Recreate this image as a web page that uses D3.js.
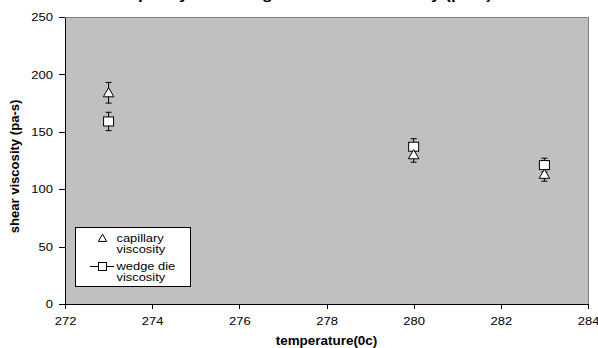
<!DOCTYPE html>
<html lang="en">
	<head>
		<meta charset="utf-8">
		<title>shear viscosity vs temperature</title>
		<script type="text/javascript" src="https://cdn.jsdelivr.net/npm/d3@7"></script>
		<style>
			body { margin: 0; background: white; }
			svg { display: block; }
			text {
				font-family: "Liberation Sans", Arial, sans-serif;
				fill: black;
			}
			.axis path,
			.axis line {
				stroke: black;
				shape-rendering: crispEdges;
			}
		</style>
	</head>
	<body>
		<script type="text/javascript">
			// data
			var temperature = [273, 280, 283];
			var capillary = [184, 130, 113];
			var capillaryErr = [9, 6.5, 6];
			var wedgeDie = [159, 137, 121];
			var wedgeDieErr = [8, 7, 6];
			var xTicks = [272, 274, 276, 278, 280, 282, 284];
			var yTicks = [0, 50, 100, 150, 200, 250];
			var seriesNames = ["capillary viscosity", "wedge die viscosity"];

			var w = 598;
			var h = 348;
			var plotLeft = 65, plotRight = 588, plotTop = 17, plotBottom = 304;

			// the original picture is a bit wider than tall, so widen the text
			function stretch(sel, k) {
				sel.each(function() {
					var len = this.getComputedTextLength();
					d3.select(this)
					  .attr("textLength", len * k)
					  .attr("lengthAdjust", "spacingAndGlyphs");
				});
			}

			var svg = d3.select("body")
						.append("svg")
						.attr("width", w)
						.attr("height", h);

			var xScale = d3.scaleLinear()
						   .domain([272, 284])
						   .range([plotLeft, plotRight]);
			var yScale = d3.scaleLinear()
						   .domain([0, 250])
						   .range([plotBottom, plotTop]);

			// plot area
			svg.append("rect")
			   .attr("x", plotLeft)
			   .attr("y", plotTop)
			   .attr("width", plotRight - plotLeft)
			   .attr("height", plotBottom - plotTop)
			   .attr("fill", "#c0c0c0")
			   .attr("stroke", "#808080")
			   .attr("stroke-width", 1)
			   .attr("shape-rendering", "crispEdges");

			// title, cut off by the top edge (only descenders show)
			svg.append("text")
			   .attr("x", 119)
			   .attr("y", -1.5)
			   .attr("font-size", "15px")
			   .attr("font-weight", "bold")
			   .attr("textLength", 373)
			   .attr("lengthAdjust", "spacingAndGlyphs")
			   .text("capillary and wedge die shear viscosity (pa-s)");

			var xAxis = d3.axisBottom(xScale)
						  .tickValues(xTicks)
						  .tickSize(5)
						  .tickSizeOuter(0)
						  .tickPadding(7.5);
			var yAxis = d3.axisLeft(yScale)
						  .tickValues(yTicks)
						  .tickSize(6)
						  .tickSizeOuter(0)
						  .tickPadding(6);

			svg.append("g")
			   .attr("class", "axis")
			   .attr("transform", "translate(0," + plotBottom + ")")
			   .call(xAxis)
			   .selectAll("text")
			   .attr("font-family", "Liberation Sans, Arial, sans-serif")
			   .attr("font-size", "11.5px")
			   .call(stretch, 1.13);

			svg.append("g")
			   .attr("class", "axis")
			   .attr("transform", "translate(" + plotLeft + ",0)")
			   .call(yAxis)
			   .selectAll("text")
			   .attr("font-family", "Liberation Sans, Arial, sans-serif")
			   .attr("font-size", "11.5px")
			   .call(stretch, 1.13);

			// axis titles
			svg.append("text")
			   .attr("x", (plotLeft + plotRight) / 2)
			   .attr("y", 345)
			   .attr("text-anchor", "middle")
			   .attr("font-size", "12px")
			   .attr("font-weight", "bold")
			   .text("temperature(0c)")
			   .call(stretch, 1.12);

			svg.append("text")
			   .attr("transform", "translate(18.5," + ((plotTop + plotBottom) / 2 + 6) + ") rotate(-90)")
			   .attr("text-anchor", "middle")
			   .attr("font-size", "12px")
			   .attr("font-weight", "bold")
			   .text("shear viscosity (pa-s)")
			   .call(stretch, 1.09);

			var capData = temperature.map(function(t, i) { return [t, capillary[i], capillaryErr[i]]; });
			var wedgeData = temperature.map(function(t, i) { return [t, wedgeDie[i], wedgeDieErr[i]]; });

			function errorBars(data, cls) {
				var g = svg.append("g").attr("class", cls);
				g.selectAll("line.v")
				 .data(data)
				 .enter()
				 .append("line")
				 .attr("x1", function(d) { return xScale(d[0]); })
				 .attr("x2", function(d) { return xScale(d[0]); })
				 .attr("y1", function(d) { return yScale(d[1] + d[2]); })
				 .attr("y2", function(d) { return yScale(d[1] - d[2]); })
				 .attr("stroke", "black");
				g.selectAll("line.top")
				 .data(data)
				 .enter()
				 .append("line")
				 .attr("x1", function(d) { return xScale(d[0]) - 3; })
				 .attr("x2", function(d) { return xScale(d[0]) + 3; })
				 .attr("y1", function(d) { return yScale(d[1] + d[2]); })
				 .attr("y2", function(d) { return yScale(d[1] + d[2]); })
				 .attr("stroke", "black");
				g.selectAll("line.bot")
				 .data(data)
				 .enter()
				 .append("line")
				 .attr("x1", function(d) { return xScale(d[0]) - 3; })
				 .attr("x2", function(d) { return xScale(d[0]) + 3; })
				 .attr("y1", function(d) { return yScale(d[1] - d[2]); })
				 .attr("y2", function(d) { return yScale(d[1] - d[2]); })
				 .attr("stroke", "black");
			}

			errorBars(capData, "caperr");
			errorBars(wedgeData, "wedgeerr");

			var triangle = d3.symbol().type(d3.symbolTriangle).size(48);

			// wedge die squares
			svg.selectAll("rect.wedge")
			   .data(wedgeData)
			   .enter()
			   .append("rect")
			   .attr("class", "wedge")
			   .attr("x", function(d) { return xScale(d[0]) - 5; })
			   .attr("y", function(d) { return yScale(d[1]) - 4.5; })
			   .attr("width", 10)
			   .attr("height", 9)
			   .attr("fill", "white")
			   .attr("stroke", "black");

			// capillary triangles
			svg.selectAll("path.cap")
			   .data(capData)
			   .enter()
			   .append("path")
			   .attr("class", "cap")
			   .attr("d", triangle)
			   .attr("transform", function(d) { return "translate(" + xScale(d[0]) + "," + (yScale(d[1]) + 1) + ")"; })
			   .attr("fill", "white")
			   .attr("stroke", "black");

			// legend
			var legend = svg.append("g");
			legend.append("rect")
				  .attr("x", 75.5)
				  .attr("y", 227.5)
				  .attr("width", 115)
				  .attr("height", 59)
				  .attr("fill", "white")
				  .attr("stroke", "black");

			legend.append("path")
				  .attr("d", d3.symbol().type(d3.symbolTriangle).size(30))
				  .attr("transform", "translate(102.5,239)")
				  .attr("fill", "white")
				  .attr("stroke", "black");

			legend.append("line")
				  .attr("x1", 90)
				  .attr("x2", 114)
				  .attr("y1", 266.5)
				  .attr("y2", 266.5)
				  .attr("stroke", "black");
			legend.append("rect")
				  .attr("x", 98.5)
				  .attr("y", 262.5)
				  .attr("width", 8)
				  .attr("height", 8)
				  .attr("fill", "white")
				  .attr("stroke", "black");

			var legendLines = [seriesNames[0].split(" "), ["wedge die", "viscosity"]];
			legend.selectAll("text.l1")
				  .data(legendLines)
				  .enter()
				  .append("text")
				  .attr("x", 116.5)
				  .attr("y", function(d, i) { return 242 + i * 28; })
				  .attr("font-size", "11.5px")
				  .text(function(d) { return d[0]; })
				  .call(stretch, 1.12);
			legend.selectAll("text.l2")
				  .data(legendLines)
				  .enter()
				  .append("text")
				  .attr("x", 116.5)
				  .attr("y", function(d, i) { return 253 + i * 28; })
				  .attr("font-size", "11.5px")
				  .text(function(d) { return d[1]; })
				  .call(stretch, 1.12);
		</script>
	</body>
</html>
